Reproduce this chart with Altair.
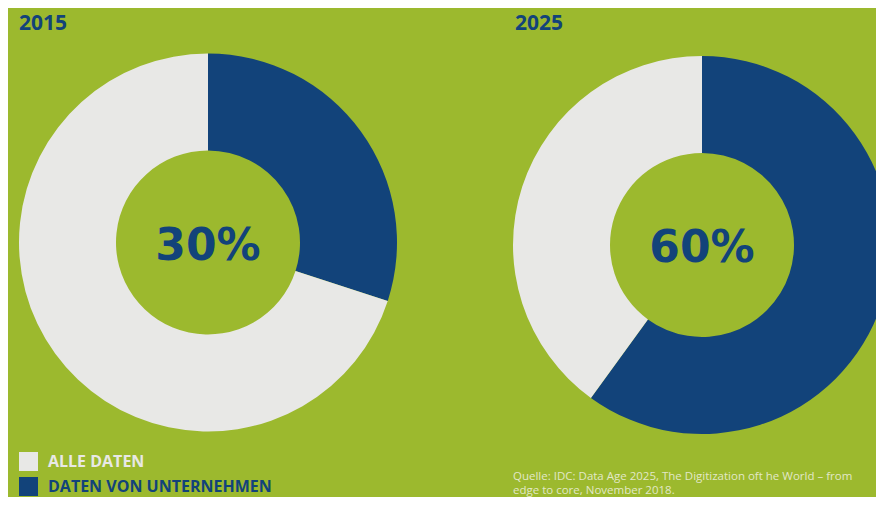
import altair as alt
import pandas as pd

years = ["2015", "2025"]
categories = ["DATEN VON UNTERNEHMEN", "ALLE DATEN"]
unternehmen = [30, 60]
alle = [70, 40]
center_labels = ["30%", "60%"]
source_lines = [
    "Quelle: IDC: Data Age 2025, The Digitization oft he World \u2013 from",
    "edge to core, November 2018.",
]

GREEN = "#9cb92e"
NAVY = "#12437a"
GRAY = "#e8e8e6"

rows = []
for y, u, a in zip(years, unternehmen, alle):
    rows.append({"year": y, "cat": categories[0], "value": u, "ord": 0})
    rows.append({"year": y, "cat": categories[1], "value": a, "ord": 1})
df = pd.DataFrame(rows)

color = alt.Color(
    "cat:N",
    scale=alt.Scale(domain=["ALLE DATEN", "DATEN VON UNTERNEHMEN"], range=[GRAY, NAVY]),
    legend=alt.Legend(
        title=None,
        orient="none",
        legendX=11,
        legendY=444,
        symbolType="square",
        symbolSize=361,
        symbolStrokeWidth=0,
        symbolOpacity=1,
        rowPadding=6,
        labelOffset=10,
        labelFont="Open Sans",
        labelFontSize=16,
        labelFontWeight="bold",
        labelColor={"expr": f"datum.value == 'ALLE DATEN' ? '{GRAY}' : '{NAVY}'"},
        labelLimit=400,
        padding=0,
    ),
)

centers = {"2015": (200, 234.5), "2025": (694, 237)}
layers = []
for i, yr in enumerate(years):
    cx, cy = centers[yr]
    base = alt.Chart(df).transform_filter(alt.datum.year == yr)
    arc = base.mark_arc(outerRadius=189, innerRadius=92, strokeWidth=0).encode(
        theta=alt.Theta("value:Q", stack=True),
        color=color,
        order=alt.Order("ord:Q"),
        x=alt.value(cx),
        y=alt.value(cy),
    )
    layers.append(arc)

lab_df = pd.DataFrame({"year": years, "label": center_labels})
for yr, (cx, cy) in centers.items():
    layers.append(
        alt.Chart(lab_df).transform_filter(alt.datum.year == yr).mark_text(
            font="DejaVu Sans", fontWeight="bold", fontSize=44, color=NAVY,
            align="center", baseline="alphabetic",
        ).encode(text="label:N", x=alt.value(cx), y=alt.value(cy + 17))
    )

title_df = pd.DataFrame({"year": years})
title_x = {"2015": 11, "2025": 507}
for yr in years:
    layers.append(
        alt.Chart(title_df).transform_filter(alt.datum.year == yr).mark_text(
            font="Open Sans", fontWeight="bold", fontSize=21, color=NAVY,
            align="left", baseline="alphabetic",
        ).encode(text="year:N", x=alt.value(title_x[yr]), y=alt.value(22))
    )

src_df = pd.DataFrame({"line": source_lines, "i": [0, 1]})
for i, line in enumerate(source_lines):
    layers.append(
        alt.Chart(src_df).transform_filter(alt.datum.i == i).mark_text(
            font="Open Sans", fontSize=11.5, color="#e2e8c8",
            align="left", baseline="alphabetic",
        ).encode(text="line:N", x=alt.value(505), y=alt.value(472 + 14 * i))
    )

chart = (
    alt.layer(*layers)
    .resolve_scale(theta="independent")
    .properties(
        width=868, height=489, background=GREEN, padding=0,
        autosize=alt.AutoSizeParams(type="none"),
    )
    .configure_view(stroke=None)
)

chart.save("out.html", embed_options={"renderer": "svg", "actions": False})
